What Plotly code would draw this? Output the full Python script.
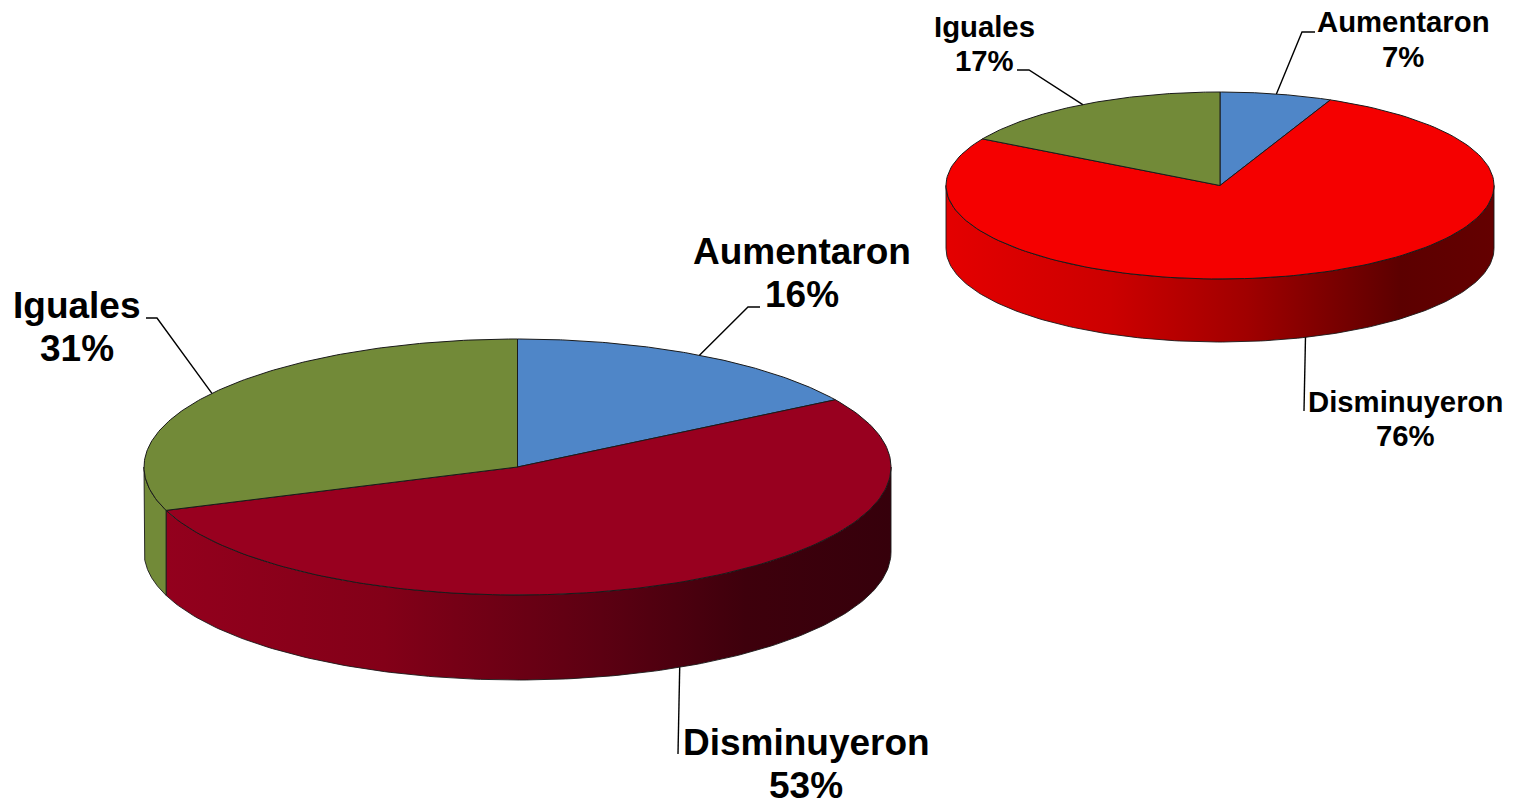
import numpy as np
import plotly.graph_objects as go

# ---- data ----
categories = ["Aumentaron", "Disminuyeron", "Iguales"]
left_values = [16.2, 53.3, 30.5]
right_values = [6.6, 76.7, 16.7]
left_labels = ["16%", "53%", "31%"]
right_labels = ["7%", "76%", "17%"]

# ---- styling / layout ----
W, H = 1517, 801
FONT = "Liberation Sans"
BLUE, GREEN = "#4f86c8", "#728a38"
left_geo = dict(cx=517.5, cy=467, rx=373.5, ry=128, depth=85)
right_geo = dict(cx=1220, cy=185.5, rx=274, ry=93.5, depth=63)
left_colors = [BLUE, "#98001f", GREEN]
right_colors = [BLUE, "#f50000", GREEN]
left_wall = [[0, "#93001d"], [0.3, "#830018"], [0.6, "#5c0012"], [0.8, "#3e000c"], [1, "#36000b"]]
right_wall = [[0, "#e40000"], [0.3, "#cc0000"], [0.55, "#a00000"], [0.83, "#5c0000"], [1, "#640000"]]

# label centres: (name x, name y, pct y), leader offset points from slice edge
left_text = [(802, 251, 294), (806, 742, 785), (77, 305, 348)]
right_text = [(1403, 21, 56), (1405, 401, 435), (984, 26, 60)]
left_elbow = [[(748, 307), (760, 307)], [(678, 754)], [(157, 318), (146, 318)]]
right_elbow = [[(1302, 32), (1315, 32)], [(1304, 411)], [(1029, 70), (1017, 70)]]
left_size, right_size = 37, 29.3

fig = go.Figure()


def arc(g, a, b, n=160, dy=0.0):
    t = np.radians(np.linspace(a, b, n))
    return g["cx"] + g["rx"] * np.sin(t), g["cy"] + dy - g["ry"] * np.cos(t)


def add_pie(values, labels, colors, wall_scale, g, text, elbows, size):
    total = sum(values)
    edges = np.concatenate([[0], np.cumsum(values)]) * 360.0 / total
    # side wall: only the front half of the disc (90..270 degrees) is seen
    for i, cat in enumerate(categories):
        a, b = max(edges[i], 90), min(edges[i + 1], 270)
        if a >= b:
            continue
        xt, yt = arc(g, a, b)
        xb, yb = arc(g, b, a, dy=g["depth"])
        x = np.concatenate([xt, xb, xt[:1]])
        y = np.concatenate([yt, yb, yt[:1]])
        tr = dict(x=x, y=y, mode="lines", fill="toself", name=cat,
                  line=dict(color="#1a1a1a", width=0.9), hoverinfo="name")
        if colors[i] == GREEN:
            tr["fillcolor"] = colors[i]
        else:
            tr["fillgradient"] = dict(type="horizontal", colorscale=wall_scale)
        fig.add_trace(go.Scatter(**tr))
    # top face
    for i, cat in enumerate(categories):
        xa, ya = arc(g, edges[i], edges[i + 1])
        x = np.concatenate([[g["cx"]], xa, [g["cx"]]])
        y = np.concatenate([[g["cy"]], ya, [g["cy"]]])
        fig.add_trace(go.Scatter(x=x, y=y, mode="lines", fill="toself", name=cat,
                                 fillcolor=colors[i], hoverinfo="name",
                                 line=dict(color="#1a1a1a", width=1)))
    # leader lines start on the middle of each slice's visible edge
    for i, cat in enumerate(categories):
        mid = (edges[i] + edges[i + 1]) / 2
        t = np.radians(mid)
        dy = g["depth"] if 90 < mid < 270 else 0
        sx = g["cx"] + g["rx"] * np.sin(t)
        sy = g["cy"] + dy - g["ry"] * np.cos(t)
        pts = [(sx, sy)] + elbows[i]
        fig.add_trace(go.Scatter(x=[p[0] for p in pts], y=[p[1] for p in pts],
                                 mode="lines", hoverinfo="skip", showlegend=False,
                                 line=dict(color="black", width=1.4)))
        tx, ny, py = text[i]
        for s, yy in ((cat, ny), (labels[i], py)):
            fig.add_annotation(x=tx, y=yy, text=f"<b>{s}</b>", showarrow=False,
                               xanchor="center", yanchor="middle",
                               font=dict(family=FONT, size=size, color="black"))


add_pie(left_values, left_labels, left_colors, left_wall, left_geo,
        left_text, left_elbow, left_size)
add_pie(right_values, right_labels, right_colors, right_wall, right_geo,
        right_text, right_elbow, right_size)

fig.update_layout(
    width=W, height=H, autosize=False,
    margin=dict(l=0, r=0, t=0, b=0),
    paper_bgcolor="white", plot_bgcolor="white",
    showlegend=False,
    xaxis=dict(range=[0, W], visible=False, fixedrange=True),
    yaxis=dict(range=[H, 0], visible=False, fixedrange=True),
)
fig.write_html("out.html", config=dict(displayModeBar=False),
               post_script="document.body.style.margin='0';document.body.style.overflow='hidden';")
